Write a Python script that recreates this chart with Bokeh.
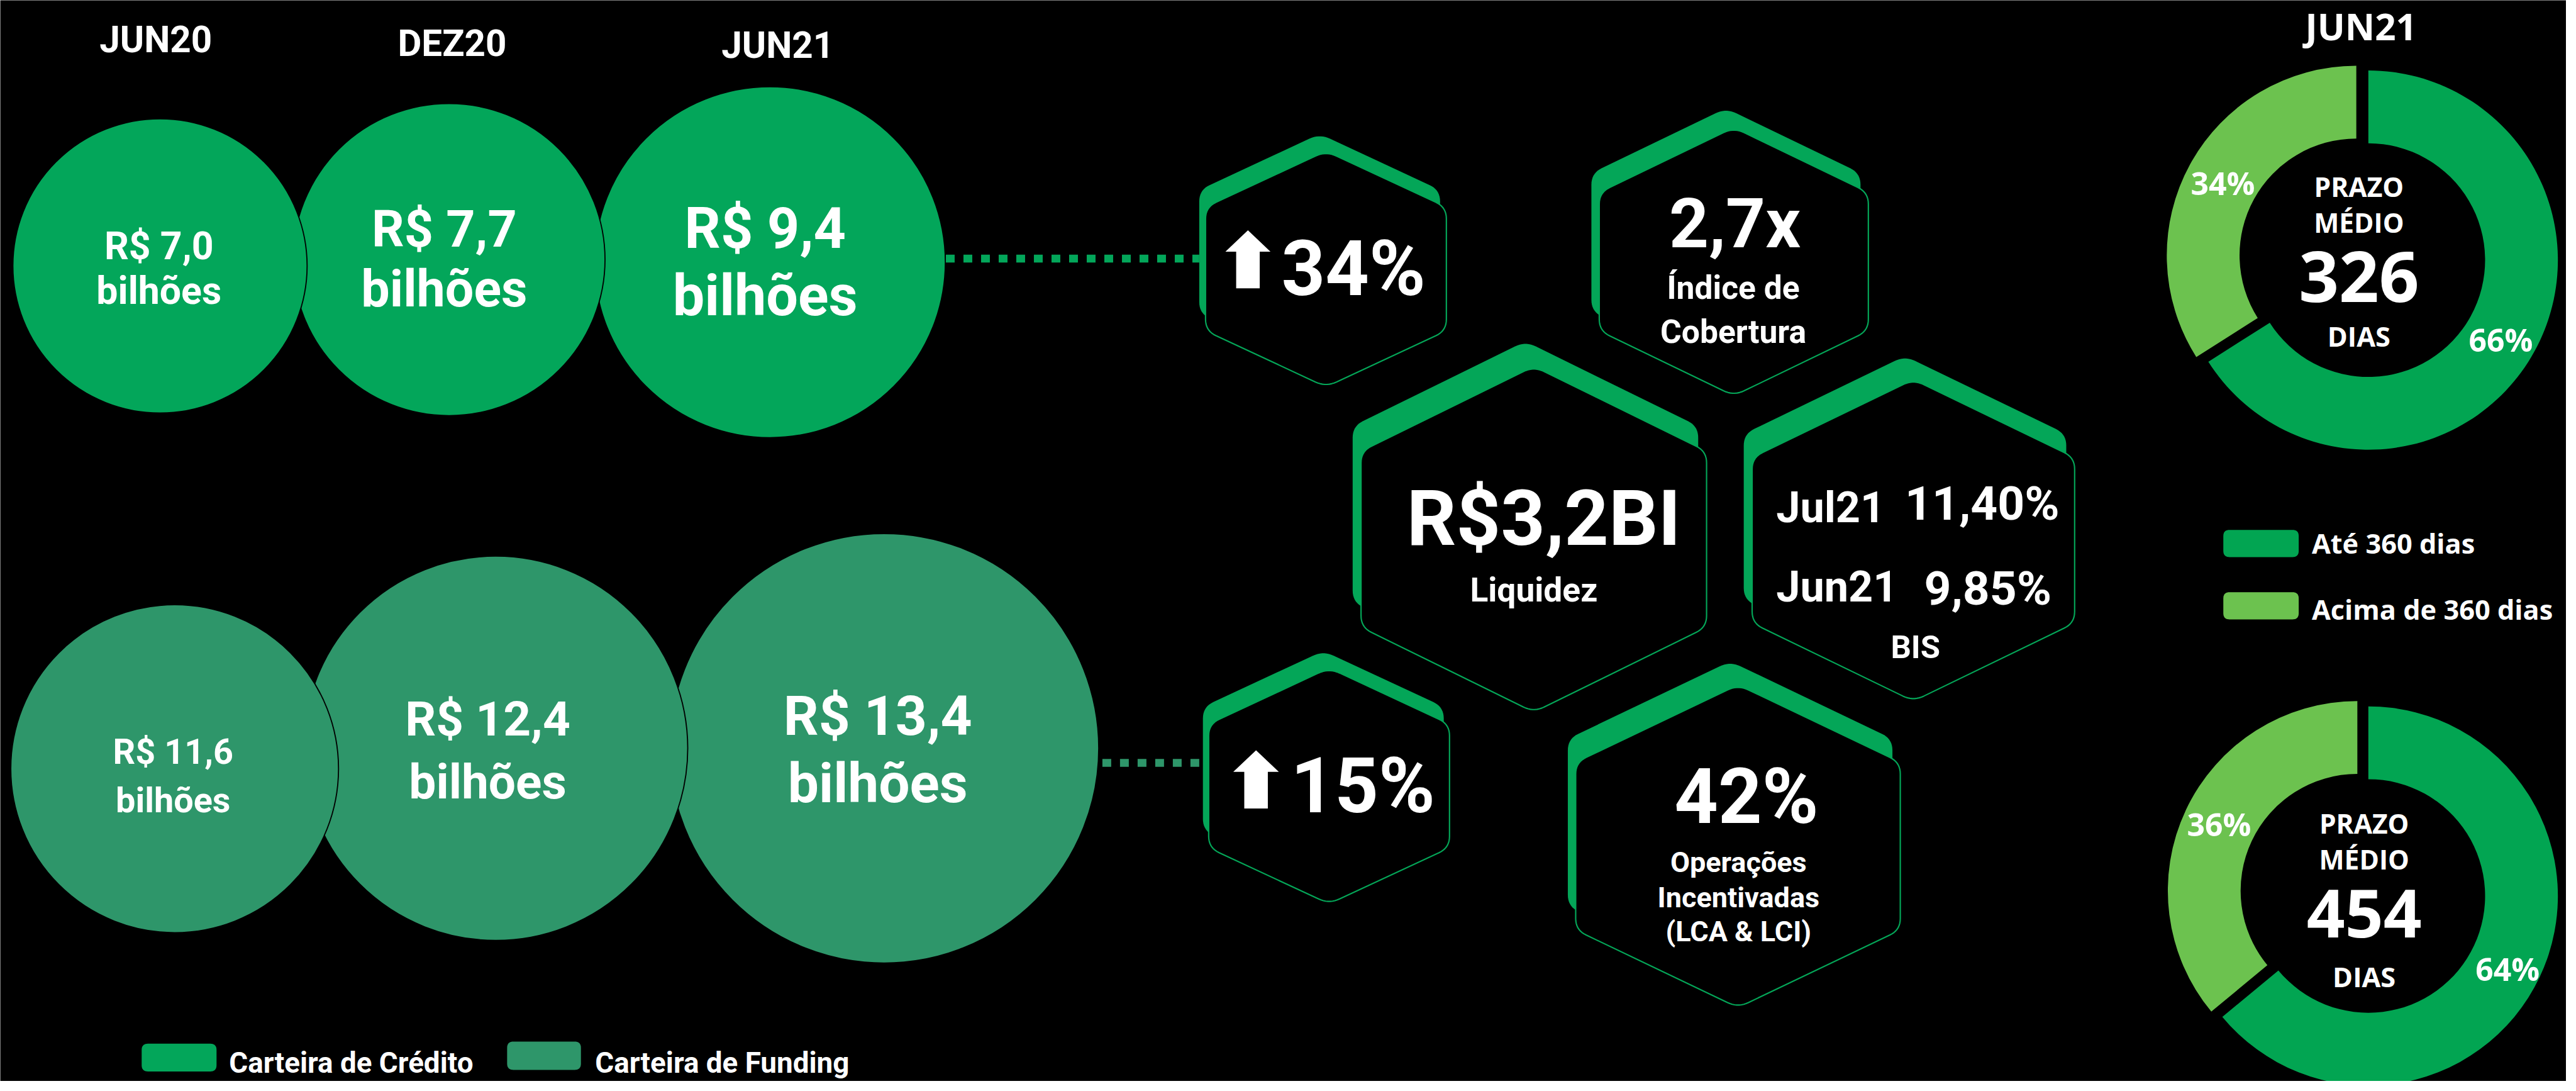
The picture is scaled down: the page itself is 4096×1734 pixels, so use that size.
import numpy as np
from bokeh.plotting import figure
from bokeh.models import Range1d
from bokeh.core.properties import value
from bokeh.embed import file_html
from bokeh.resources import INLINE

# ---------------- data ----------------
periods = ["JUN20", "DEZ20", "JUN21"]
credito_values = ["R$ 7,0", "R$ 7,7", "R$ 9,4"]
funding_values = ["R$ 11,6", "R$ 12,4", "R$ 13,4"]
unit_label = "bilhões"
growth_credito = "34%"
growth_funding = "15%"
cobertura_value = "2,7x"
cobertura_label = ["Índice de", "Cobertura"]
liquidez_value = "R$3,2BI"
liquidez_label = "Liquidez"
bis_months = ["Jul21", "Jun21"]
bis_values = ["11,40%", "9,85%"]
bis_label = "BIS"
incentivadas_value = "42%"
incentivadas_label = ["Operações", "Incentivadas", "(LCA & LCI)"]
donut_title = "JUN21"
donut_categories = ["Até 360 dias", "Acima de 360 dias"]
donut_top_pct = [66, 34]
donut_bottom_pct = [64, 36]
donut_days = ["326", "454"]
donut_center_label = ["PRAZO", "MÉDIO", "DIAS"]
legend_left = ["Carteira de Crédito", "Carteira de Funding"]

# ---------------- styles / layout ----------------
C_CRED = "#03a65a"
C_FUND = "#2e966a"
C_DARK = "#02a552"
C_LIGHT = "#6cc24f"
C_HEX = "#04a658"

W_REF = 4901
PW, PH = 4080, 1718
S = PW / W_REF
H_SPAN = PH / S
TOP = 5
BASE_SHIFT = 0.31   # em; compensates the renderer's baseline placement

p = figure(width=PW, height=PH, output_backend="svg", toolbar_location=None,
           x_range=Range1d(0, W_REF), y_range=Range1d(-(TOP + H_SPAN), -TOP),
           x_axis_type=None, y_axis_type=None, min_border=0,
           background_fill_color="black", border_fill_color="black",
           outline_line_color=None)
p.grid.visible = False


def fs(v):
    return f"{v * S:.1f}px"


def txt(x, y, s, size, font="Roboto", align="center", color="white"):
    yy = y - BASE_SHIFT * size
    p.text(x=[x], y=[-yy], text=[s], text_font=value(font), text_font_style="bold",
           text_font_size=fs(size), text_align=align, text_baseline="alphabetic",
           text_line_height=1.0, text_color=color)


def rounded(pts, r, n=10):
    pts = np.array(pts, float)
    out = []
    N = len(pts)
    for i in range(N):
        p0, p1, p2 = pts[i - 1], pts[i], pts[(i + 1) % N]
        u1 = (p0 - p1) / np.linalg.norm(p0 - p1)
        u2 = (p2 - p1) / np.linalg.norm(p2 - p1)
        a = p1 + u1 * r
        b = p1 + u2 * r
        for t in np.linspace(0, 1, n):
            out.append((1 - t) ** 2 * a + 2 * (1 - t) * t * p1 + t ** 2 * b)
    out = np.array(out)
    return list(out[:, 0]), list(-out[:, 1])


def hexpts(cx, cy, hw, hs, H):
    return [(cx, cy - H), (cx + hw, cy - hs), (cx + hw, cy + hs),
            (cx, cy + H), (cx - hw, cy + hs), (cx - hw, cy - hs)]


def hexagon(cx, cy, hw, hs, H, dx, dy):
    xs, ys = rounded(hexpts(cx + dx, cy + dy, hw, hs, H), 22)
    p.patch(xs, ys, fill_color=C_HEX, line_color=None)
    xs, ys = rounded(hexpts(cx, cy, hw, hs, H), 22)
    p.patch(xs, ys, fill_color="black", line_color=C_HEX, line_width=2.6 * S)


def rrect(x0, y0, x1, y1, color, r=12):
    xs, ys = rounded([(x0, y0), (x1, y0), (x1, y1), (x0, y1)], r)
    p.patch(xs, ys, fill_color=color, line_color=None)


def arrow(x0, y0, w, head, shaft_w, total):
    cx = x0 + w / 2
    pts = [(cx, y0), (x0 + w, y0 + head), (cx + shaft_w / 2, y0 + head),
           (cx + shaft_w / 2, y0 + total), (cx - shaft_w / 2, y0 + total),
           (cx - shaft_w / 2, y0 + head), (x0, y0 + head)]
    p.patch([q[0] for q in pts], [-q[1] for q in pts], fill_color="white", line_color=None)


# ---------------- dotted connectors ----------------
p.line([1806, 2290], [-498, -498], line_color=C_CRED, line_width=15 * S,
       line_dash="14 14", line_cap="butt")
p.line([2105, 2298], [-1461, -1461], line_color=C_FUND, line_width=15 * S,
       line_dash="14 14", line_cap="butt")

# ---------------- bubbles ----------------
top_circles = [(305, 512, 281), (857, 500, 298), (1470, 505, 335)]
bot_circles = [(333, 1472, 313), (946, 1433, 367), (1688, 1433, 410)]
for circles, col in ((top_circles, C_CRED), (bot_circles, C_FUND)):
    for cx, cy, r in reversed(circles):
        p.ellipse(x=[cx], y=[-cy], width=[2 * r], height=[2 * r], fill_color=col,
                  line_color="black", line_width=2.2 * S)

period_pos = [(297, 102), (863, 109), (1485, 112)]
for (x, y), lab in zip(period_pos, periods):
    txt(x, y, lab, 70)

top_txt = [(303, 497, 582, 73), (848, 472, 586, 97), (1461, 475, 603, 108)]
for (x, y1, y2, f), lab in zip(top_txt, credito_values):
    txt(x, y1, lab, f)
    txt(x, y2, unit_label, f)

bot_txt = [(330, 1461, 1553, 67), (931, 1406, 1526, 92), (1676, 1404, 1533, 105)]
for (x, y1, y2, f), lab in zip(bot_txt, funding_values):
    txt(x, y1, lab, f)
    txt(x, y2, unit_label, f)

# ---------------- hexagons ----------------
hexagon(2532, 518, 230, 118, 225, -12, -33)   # 34%
hexagon(3311, 504, 257, 132, 256, -15, -37)   # 2,7x
hexagon(2929, 1034, 330, 168, 330, -16, -48)  # liquidez
hexagon(3654, 1036, 308, 158, 307, -16, -45)  # BIS
hexagon(2538, 1505, 230, 118, 225, -11, -33)  # 15%
hexagon(3319, 1620, 310, 160, 308, -15, -45)  # 42%

arrow(2340, 444, 86, 41, 45, 111)
txt(2447, 563, growth_credito, 146, align="left")
arrow(2355, 1437, 87, 41, 45, 111)
txt(2465, 1550, growth_funding, 146, align="left")

txt(3313, 472, cobertura_value, 132)
txt(3310, 573, cobertura_label[0], 62)
txt(3310, 657, cobertura_label[1], 62)

txt(2948, 1040, liquidez_value, 148)
txt(2929, 1151, liquidez_label, 64)

txt(3392, 999, bis_months[0], 82, align="left")
txt(3933, 994, bis_values[0], 90, align="right")
txt(3392, 1151, bis_months[1], 82, align="left")
txt(3918, 1156, bis_values[1], 90, align="right")
txt(3658, 1259, bis_label, 61)

txt(3335, 1571, incentivadas_value, 146)
for yy, lab in zip([1668, 1735, 1799], incentivadas_label):
    txt(3320, yy, lab, 54)

# ---------------- donuts ----------------
R_OUT, R_IN = 362, 223
OS = "Open Sans"
txt(4509, 76, donut_title, 70, font=OS)
donuts = [
    dict(pct=donut_top_pct, dark=(4523, 501), light=(4500, 492), days=donut_days[0],
         y=(376, 445, 574, 663), cx=4505, lp=(4245, 373), dp=(4776, 672), df=134),
    dict(pct=donut_bottom_pct, dark=(4523, 1715), light=(4502, 1705), days=donut_days[1],
         y=(1592, 1661, 1788, 1885), cx=4515, lp=(4238, 1597), dp=(4789, 1873), df=128),
]
for d in donuts:
    split = np.deg2rad(90 + 3.6 * d["pct"][1])
    p.annular_wedge(x=[d["dark"][0]], y=[-d["dark"][1]], inner_radius=R_IN, outer_radius=R_OUT,
                    start_angle=split - 2 * np.pi, end_angle=np.pi / 2, direction="anticlock",
                    fill_color=C_DARK, line_color=None)
    p.annular_wedge(x=[d["light"][0]], y=[-d["light"][1]], inner_radius=R_IN, outer_radius=R_OUT,
                    start_angle=np.pi / 2, end_angle=split, direction="anticlock",
                    fill_color=C_LIGHT, line_color=None)
    y1, y2, y3, y4 = d["y"]
    txt(d["cx"], y1, donut_center_label[0], 51, font=OS)
    txt(d["cx"], y2, donut_center_label[1], 51, font=OS)
    txt(d["cx"], y3, d["days"], d["df"], font=OS)
    txt(d["cx"], y4, donut_center_label[2], 52, font=OS)
    txt(d["lp"][0], d["lp"][1], f"{d['pct'][1]}%", 60, font=OS)
    txt(d["dp"][0], d["dp"][1], f"{d['pct'][0]}%", 60, font=OS)

# donut legend
rrect(4246, 1016, 4390, 1068, C_DARK)
txt(4415, 1058, donut_categories[0], 52, font=OS, align="left")
rrect(4246, 1135, 4390, 1187, C_LIGHT)
txt(4415, 1184, donut_categories[1], 52, font=OS, align="left")

# bubble legend
rrect(270, 1997, 413, 2050, C_CRED)
txt(437, 2051, legend_left[0], 55, align="left")
rrect(968, 1993, 1109, 2047, C_FUND)
txt(1136, 2051, legend_left[1], 55, align="left")

open("out.html", "w").write(file_html(p, INLINE))
